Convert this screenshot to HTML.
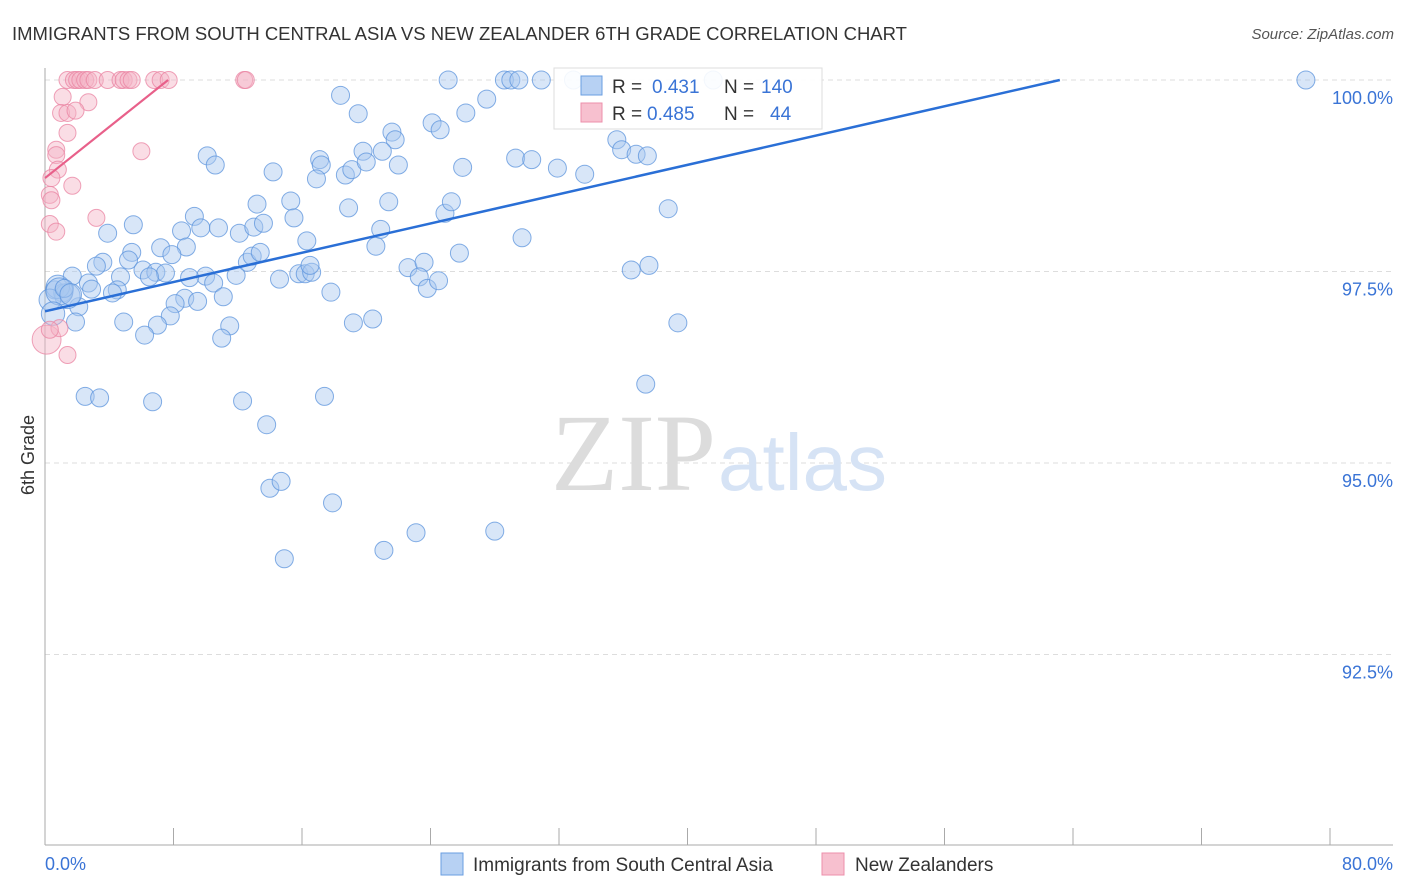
<!DOCTYPE html>
<html><head><meta charset="utf-8"><style>
body{margin:0;background:#fff;font-family:"Liberation Sans",sans-serif;}
svg{display:block}
</style></head><body>
<svg id="chart" width="1406" height="892">
<text x="12" y="40" font-size="18.5" fill="#333">IMMIGRANTS FROM SOUTH CENTRAL ASIA VS NEW ZEALANDER 6TH GRADE CORRELATION CHART</text>
<text x="1394" y="39" font-size="15" fill="#555" font-style="italic" text-anchor="end">Source: ZipAtlas.com</text>
<g id="grid"></g>
<text x="716" y="490" font-size="110" fill="#dcdcdc" font-family="Liberation Serif,serif" text-anchor="end">ZIP</text>
<text x="718" y="490" font-size="80" fill="#d6e3f5">atlas</text>
<g id="pts"></g>
<g id="lines"></g>
<text transform="translate(34,455) rotate(-90)" font-size="18" fill="#333" text-anchor="middle">6th Grade</text>
<g>
<rect x="554" y="68" width="268" height="61" fill="#fff" fill-opacity="0.9" stroke="#ddd"/>
<rect x="581" y="76" width="21" height="19" fill="#b7d1f3" stroke="#6a9ee0"/>
<rect x="581" y="103" width="21" height="19" fill="#f7c0cf" stroke="#ec8fab"/>
<text x="612" y="93" font-size="19" fill="#333">R = </text><text x="652" y="93" font-size="19" fill="#3a74d6">0.431</text>
<text x="724" y="93" font-size="19" fill="#333">N = </text><text x="761" y="93" font-size="19" fill="#3a74d6">140</text>
<text x="612" y="120" font-size="19" fill="#333">R = </text><text x="647" y="120" font-size="19" fill="#3a74d6">0.485</text>
<text x="724" y="120" font-size="19" fill="#333">N = </text><text x="770" y="120" font-size="19" fill="#3a74d6">44</text>
</g>
<g>
<rect x="441" y="853" width="22" height="22" fill="#b7d1f3" stroke="#6a9ee0"/>
<text x="473" y="871" font-size="19" fill="#333">Immigrants from South Central Asia</text>
<rect x="822" y="853" width="22" height="22" fill="#f7c0cf" stroke="#ec8fab"/>
<text x="855" y="871" font-size="19" fill="#333">New Zealanders</text>
</g>
</svg>
<script>
const yTicks=[100,97.5,95,92.5];
const yTickLabels=["100.0%","97.5%","95.0%","92.5%"];
const xTickCount=10;
const blueX=[78.5,25.1,28.6,29.0,29.5,30.9,32.9,41.6,18.4,19.5,26.2,27.5,24.1,24.6,21.6,21.8,35.6,35.9,36.8,37.5,10.1,10.6,14.2,17.1,17.2,16.9,18.7,19.1,19.8,20.0,21.0,22.0,26.0,29.3,30.3,31.9,33.6,38.8,13.2,15.3,18.9,21.4,24.9,25.3,9.3,9.7,8.5,10.8,12.1,13.0,13.6,15.5,5.5,3.9,16.3,20.6,20.9,25.8,29.7,5.4,7.2,8.8,7.9,5.2,3.6,3.2,6.1,6.9,7.5,6.5,4.7,1.7,2.7,2.9,4.5,4.2,10.0,9.0,10.5,11.9,12.6,12.9,13.4,14.6,15.8,16.2,16.6,16.5,17.8,22.6,23.6,23.3,23.8,24.5,36.5,37.6,8.7,9.5,11.1,8.1,7.8,7.0,6.2,4.9,2.1,1.9,11.5,11.0,19.2,20.4,39.4,37.4,2.5,3.4,6.7,12.3,17.4,13.8,14.0,14.7,17.9,14.9,21.1,23.1,28.0,0.6,1.1,1.4,0.8,0.3,0.9,1.2,0.5,1.6];
const blueY=[100,100,100,100,100,100,100,100,99.80,99.56,99.57,99.75,99.44,99.35,99.32,99.22,99.22,99.09,99.03,99.01,99.01,98.89,98.80,98.96,98.89,98.71,98.76,98.83,99.07,98.93,99.07,98.89,98.86,98.98,98.96,98.85,98.77,98.32,98.38,98.42,98.33,98.41,98.26,98.41,98.22,98.07,98.03,98.07,98.00,98.08,98.13,98.20,98.11,98.00,97.90,97.83,98.05,97.74,97.94,97.75,97.81,97.82,97.72,97.65,97.62,97.57,97.52,97.49,97.48,97.43,97.43,97.44,97.35,97.27,97.26,97.22,97.44,97.42,97.35,97.45,97.62,97.70,97.75,97.40,97.47,97.47,97.49,97.58,97.23,97.55,97.62,97.43,97.28,97.38,97.52,97.58,97.15,97.11,97.17,97.08,96.92,96.80,96.67,96.84,97.04,96.84,96.79,96.63,96.83,96.88,96.83,96.03,95.87,95.85,95.80,95.81,95.87,95.50,94.67,94.76,94.48,93.75,93.86,94.09,94.11,97.26,97.22,97.18,97.30,97.13,97.24,97.28,96.95,97.20];
const blueSize=[1,1,1,1,1,1,1,1,1,1,1,1,1,1,1,1,1,1,1,1,1,1,1,1,1,1,1,1,1,1,1,1,1,1,1,1,1,1,1,1,1,1,1,1,1,1,1,1,1,1,1,1,1,1,1,1,1,1,1,1,1,1,1,1,1,1,1,1,1,1,1,1,1,1,1,1,1,1,1,1,1,1,1,1,1,1,1,1,1,1,1,1,1,1,1,1,1,1,1,1,1,1,1,1,1,1,1,1,1,1,1,1,1,1,1,1,1,1,1,1,1,1,1,1,1,1,1,1.4,1.3,1.2,1.5,1,1.3,1.2,1.6,1];
const pinkX=[1.4,1.8,2.0,2.2,2.5,2.7,3.1,3.9,4.7,4.9,5.2,5.4,6.8,7.2,7.7,12.4,12.5,1.1,2.7,1.0,1.4,1.9,1.4,0.7,0.7,6.0,0.8,1.7,0.4,0.3,0.4,3.2,0.3,0.7,0.1,1.4,0.9,0.3];
const pinkY=[100,100,100,100,100,100,100,100,100,100,100,100,100,100,100,100,100,99.78,99.71,99.57,99.57,99.60,99.31,99.09,99.02,99.07,98.83,98.62,98.72,98.50,98.43,98.20,98.12,98.02,96.61,96.41,96.76,96.74];
const pinkSize=[1,1,1,1,1,1,1,1,1,1,1,1,1,1,1,1,1,1,1,1,1,1,1,1,1,1,1,1,1,1,1,1,1,1,1.7,1,1,1];
const blueTrend=[96.98,0.0478];
const pinkTrend=[98.72,0.167];
const NS="http://www.w3.org/2000/svg";
const X0=45,X1=1330,Y100=80,PXPER=76.6;
function sx(p){return X0+p*(X1-X0)/80;}
function sy(v){return Y100+(100-v)*PXPER;}
function mk(tag,attrs,parent){const e=document.createElementNS(NS,tag);for(const k in attrs)e.setAttribute(k,attrs[k]);parent.appendChild(e);return e;}
const grid=document.getElementById('grid');
yTicks.forEach((t,i)=>{
 const l=mk('line',{x1:X0,x2:1393,y1:sy(t),y2:sy(t),stroke:'#ddd','stroke-dasharray':'5,4'},grid);
 
 
 const tx=mk('text',{x:1393,y:sy(t)+24,'font-size':18,fill:'#3a74d6','text-anchor':'end'},grid);
 tx.textContent=yTickLabels[i];
 
 
});
const ax=mk('line',{x1:X0,x2:X0,y1:68,y2:845,stroke:'#aaa'},grid);


const bx=mk('line',{x1:X0,x2:1393,y1:845,y2:845,stroke:'#aaa'},grid);


for(let i=0;i<=xTickCount;i++){
 const t=mk('line',{x1:sx(i*8),x2:sx(i*8),y1:828,y2:845,stroke:'#aaa'},grid);
 
 
}
const xl0=mk('text',{x:45,y:870,'font-size':18,fill:'#3a74d6'},grid);xl0.textContent='0.0%';


const xl1=mk('text',{x:1393,y:870,'font-size':18,fill:'#3a74d6','text-anchor':'end'},grid);xl1.textContent='80.0%';


const pts=document.getElementById('pts');
blueX.forEach((x,i)=>{
 const c=mk('circle',{cx:sx(x),cy:sy(blueY[i]),r:9*blueSize[i],fill:'#a9c8f0','fill-opacity':0.45,stroke:'#5b93dc','stroke-opacity':0.75,'stroke-width':1},pts);
 
 
});
pinkX.forEach((x,i)=>{
 const c=mk('circle',{cx:sx(x),cy:sy(pinkY[i]),r:8.5*pinkSize[i],fill:'#f5b4c6','fill-opacity':0.45,stroke:'#ea83a2','stroke-opacity':0.75,'stroke-width':1},pts);
 
 
});
const lines=document.getElementById('lines');
const bEnd=(100-blueTrend[0])/blueTrend[1];
const bl=mk('line',{x1:sx(0),y1:sy(blueTrend[0]),x2:sx(bEnd),y2:sy(100),stroke:'#2a6fd6','stroke-width':2.5},lines);


const pEnd=(100-pinkTrend[0])/pinkTrend[1];
const pl=mk('line',{x1:sx(0),y1:sy(pinkTrend[0]),x2:sx(pEnd),y2:sy(100),stroke:'#e8608a','stroke-width':2.2},lines);


</script>
</body></html>
